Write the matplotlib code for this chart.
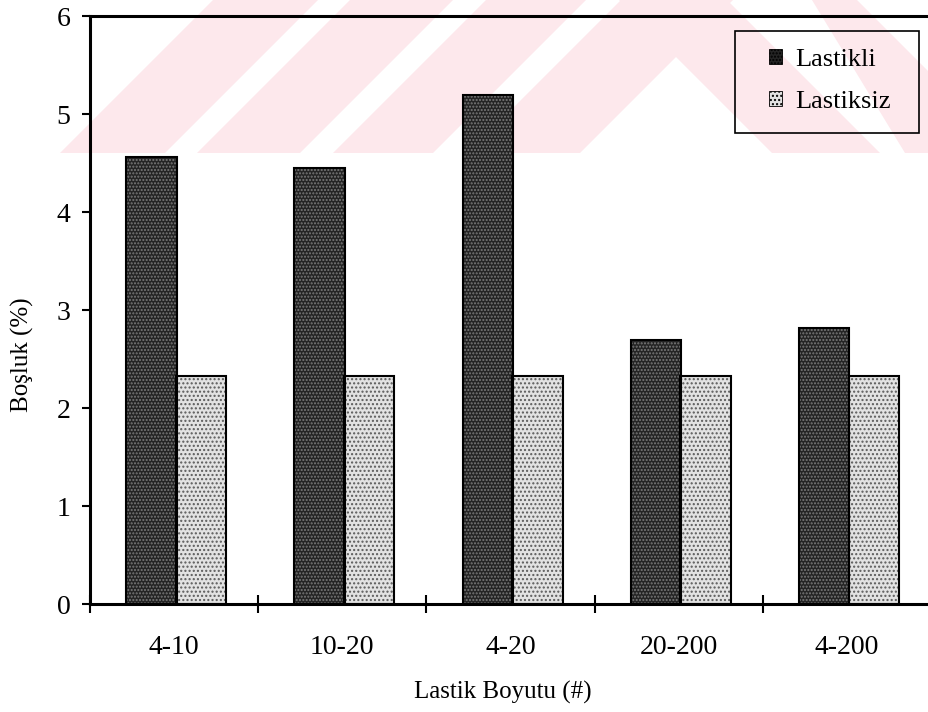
import matplotlib
matplotlib.use("Agg")
import matplotlib.pyplot as plt
from matplotlib.patches import Polygon, Rectangle
import numpy as np

plt.rcParams['font.family'] = ['Liberation Serif', 'DejaVu Serif']

# Data
categories = ['4-10', '10-20', '4-20', '20-200', '4-200']
lastikli = [4.56, 4.45, 5.19, 2.69, 2.82]
lastiksiz = [2.33, 2.33, 2.33, 2.33, 2.33]
series_labels = ['Lastikli', 'Lastiksiz']
y_ticks = [0, 1, 2, 3, 4, 5, 6]

W, H = 929, 712
fig = plt.figure(figsize=(W / 100, H / 100), dpi=100)

# Faint pink background stripes across the top band (pixel coords, top-left origin)
pink = '#fde8ec'
band_bottom = 153


def px_poly(pts):
    verts = [(x / W, 1 - y / H) for x, y in pts]
    p = Polygon(verts, closed=True, transform=fig.transFigure,
                facecolor=pink, edgecolor='none', zorder=0)
    fig.add_artist(p)


# stripes rising to the right
for x0, x1 in [(60, 165), (197, 300), (333, 433), (468, 580)]:
    px_poly([(x0, band_bottom), (x1, band_bottom),
             (x1 + band_bottom, 0), (x0 + band_bottom, 0)])
# stripes falling to the right
px_poly([(772, band_bottom), (880, band_bottom), (727, 0), (619, 0)])
px_poly([(905, band_bottom), (1010, band_bottom), (857, 0), (812, 0)])

AX_L, AX_R, AX_T, AX_B = 90, 931, 16, 604
ax = fig.add_axes([AX_L / W, (H - AX_B) / H, (AX_R - AX_L) / W, (AX_B - AX_T) / H])
ax.set_facecolor('none')
ax.set_zorder(1)


def ax_px(px, py):
    """pixel position (top-left origin) -> axes fraction"""
    return (px - AX_L) / (AX_R - AX_L), (AX_B - py) / (AX_B - AX_T)


x = np.arange(len(categories))
width = 0.30
pos_dark = x + 0.365
pos_light = x + 0.660

# textured fills
b1 = ax.bar(pos_dark, lastikli, width, color='#242424', hatch='.....',
            edgecolor='#7a7a7a', linewidth=0, label=series_labels[0], zorder=2)
b2 = ax.bar(pos_light, lastiksiz, width, color='#e2e2e2', hatch='....',
            edgecolor='#5a5a5a', linewidth=0, label=series_labels[1], zorder=2)
# outlines
ax.bar(pos_dark, lastikli, width, fill=False, edgecolor='black', linewidth=1.5, zorder=3)
ax.bar(pos_light, lastiksiz, width, fill=False, edgecolor='black', linewidth=1.5, zorder=3)

ax.set_xlim(0, 5)
ax.set_ylim(0, 6)
ax.set_yticks(y_ticks)
ax.set_yticklabels([str(v) for v in y_ticks])
ax.set_xticks(x + 0.5)
ax.set_xticklabels(categories)
ax.set_xticks(np.arange(0, 6), minor=True)

ax.tick_params(axis='y', direction='out', length=6, width=1.5, labelsize=20, pad=8)
ax.tick_params(axis='x', which='major', length=0, labelsize=20, pad=22)
ax.tick_params(axis='x', which='minor', direction='inout', length=13, width=1.5)

for side in ['left', 'bottom', 'top']:
    ax.spines[side].set_linewidth(2.2)
ax.spines['right'].set_visible(False)

ax.set_ylabel('Boşluk (%)', fontsize=18)
ax.yaxis.set_label_coords(*ax_px(34, 355))
ax.set_xlabel('Lastik Boyutu (#)', fontsize=18)
ax.xaxis.set_label_coords(*ax_px(503, 681))

# legend entries without their own frame; the box is drawn separately
leg = ax.legend(handles=[b1, b2], loc='upper left',
                bbox_to_anchor=ax_px(769, 49),
                fontsize=19, frameon=False,
                handlelength=0.5, handleheight=0.5,
                handletextpad=0.5, labelspacing=0.75, borderpad=0,
                borderaxespad=0)
for h in leg.legend_handles:
    h.set_edgecolor('black')
    h.set_linewidth(0.6)

x0, y0 = ax_px(735, 133)
x1, y1 = ax_px(919, 31)
ax.add_patch(Rectangle((x0, y0), x1 - x0, y1 - y0, transform=ax.transAxes,
                       fill=False, edgecolor='black', linewidth=1.2,
                       clip_on=False, zorder=4))

fig.savefig('out.png', dpi=100)
